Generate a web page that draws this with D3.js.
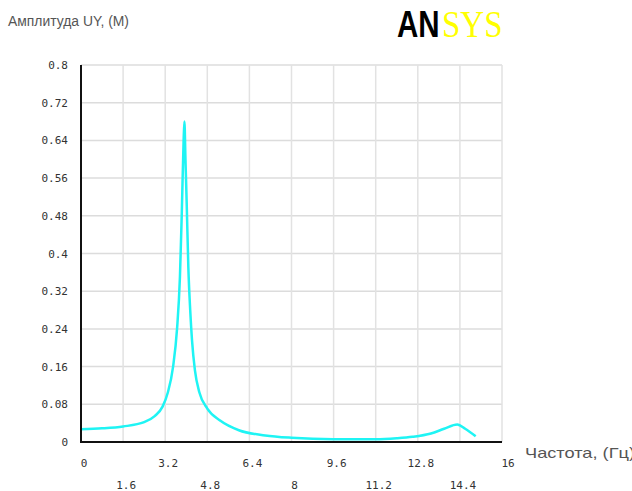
<!DOCTYPE html>
<html>
<head>
<meta charset="utf-8">
<script src="https://cdn.jsdelivr.net/npm/d3@7"></script>
<style>
  body { margin: 0; background: #fff; }
  svg { display: block; }
</style>
</head>
<body>
<div class="container"></div>
<script>
// Chart size
const width = 632;
const height = 491;

// Frequency response (Hz, m)
const freq = [0, 0.8, 1.6, 2.4, 2.8, 3.1, 3.3, 3.5, 3.65, 3.76, 3.83, 3.9, 3.93, 3.97, 4.02, 4.08, 4.15, 4.22, 4.33, 4.5, 4.8, 5.3, 6.0, 7.0, 8.0, 9.6, 11.2, 12.0, 12.6, 13.3, 13.8, 14.3, 14.6, 15.0];
const amp = [0.027, 0.029, 0.033, 0.042, 0.055, 0.075, 0.105, 0.16, 0.24, 0.35, 0.485, 0.64, 0.68, 0.6, 0.5, 0.37, 0.28, 0.215, 0.152, 0.105, 0.071, 0.045, 0.025, 0.014, 0.009, 0.006, 0.006, 0.008, 0.011, 0.018, 0.028, 0.037, 0.028, 0.012];

// Tick labels
const xTicks = [0, 1.6, 3.2, 4.8, 6.4, 8, 9.6, 11.2, 12.8, 14.4, 16];
const yTicks = [0, 0.08, 0.16, 0.24, 0.32, 0.4, 0.48, 0.56, 0.64, 0.72, 0.8];

const titleY = "Амплитуда UY, (M)";
const titleX = "Частота, (Гц)";

const x = d3.scaleLinear().domain([0, 16]).range([81, 502]);
const y = d3.scaleLinear().domain([0, 0.8]).range([442, 65]);

const svg = d3.select(".container").append("svg")
    .attr("width", width)
    .attr("height", height);

// grid
svg.append("g")
  .selectAll("line")
  .data(yTicks.slice(1))
  .enter().append("line")
    .attr("x1", x(0)).attr("x2", x(16))
    .attr("y1", d => y(d)).attr("y2", d => y(d))
    .attr("stroke", "#dcdcdc")
    .attr("stroke-width", 1.5);

svg.append("g")
  .selectAll("line")
  .data(xTicks.slice(1))
  .enter().append("line")
    .attr("x1", d => x(d)).attr("x2", d => x(d))
    .attr("y1", y(0)).attr("y2", y(0.8))
    .attr("stroke", "#e2e2e2")
    .attr("stroke-width", 1.5);

// tick labels
const mono = "'DejaVu Sans Mono', 'Liberation Mono', monospace";

svg.append("g")
  .selectAll("text")
  .data(yTicks)
  .enter().append("text")
    .attr("x", 68)
    .attr("y", d => y(d) + 4)
    .attr("text-anchor", "end")
    .attr("font-family", mono)
    .attr("font-size", 11)
    .attr("fill", "#333")
    .text(d => d3.format("~g")(d));

svg.append("g")
  .selectAll("text")
  .data(xTicks)
  .enter().append("text")
    .attr("x", d => x(d) + (d === 16 ? 6 : 3))
    .attr("y", (d, i) => i % 2 ? 489 : 467)
    .attr("text-anchor", "middle")
    .attr("font-family", mono)
    .attr("font-size", 11)
    .attr("fill", "#333")
    .text(d => d3.format("~g")(d));

// curve
const line = d3.line()
    .x((d, i) => x(freq[i]))
    .y(d => y(d))
    .curve(d3.curveMonotoneX);

svg.append("path")
    .datum(amp)
    .attr("d", line)
    .attr("fill", "none")
    .attr("stroke", "#1ff4f4")
    .attr("stroke-width", 2.5)
    .attr("stroke-linejoin", "round");

// axes
svg.append("line")
    .attr("x1", x(0)).attr("x2", x(0))
    .attr("y1", y(0.8)).attr("y2", y(0) + 1)
    .attr("stroke", "#111").attr("stroke-width", 2);
svg.append("line")
    .attr("x1", x(0) - 1).attr("x2", x(16))
    .attr("y1", y(0)).attr("y2", y(0))
    .attr("stroke", "#111").attr("stroke-width", 2);

// titles
svg.append("text")
    .attr("x", 8).attr("y", 26)
    .attr("font-family", "'Liberation Sans', Arial, sans-serif")
    .attr("font-size", 14)
    .attr("fill", "#555")
    .attr("textLength", 121)
    .attr("lengthAdjust", "spacingAndGlyphs")
    .text(titleY);

svg.append("text")
    .attr("x", 525).attr("y", 458)
    .attr("font-family", "'Liberation Sans', Arial, sans-serif")
    .attr("font-size", 15)
    .attr("fill", "#555")
    .attr("textLength", 110)
    .attr("lengthAdjust", "spacingAndGlyphs")
    .text(titleX);

// logo: narrow glyphs by a smaller size stretched upward
svg.append("text")
    .attr("transform", "translate(397,37) scale(1,1.25)")
    .attr("font-family", "'Liberation Sans', Arial, sans-serif")
    .attr("font-weight", "bold")
    .attr("font-size", 29.5)
    .attr("fill", "#000")
    .text("AN");

svg.append("text")
    .attr("transform", "translate(442,37) scale(1,1.12)")
    .attr("font-family", "'Liberation Serif', 'Times New Roman', serif")
    .attr("font-size", 33)
    .attr("fill", "#ffff00")
    .text("SYS");
</script>
</body>
</html>
